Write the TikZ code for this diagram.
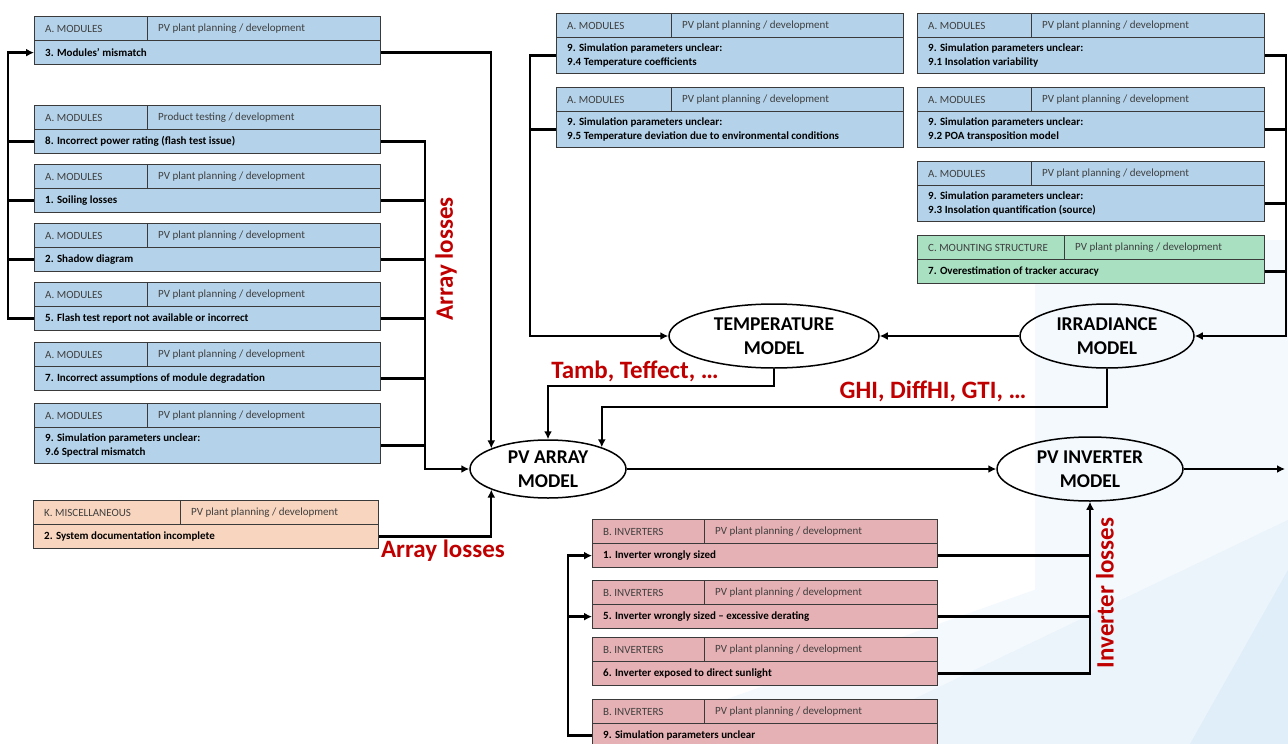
\documentclass[tikz,border=0pt]{standalone}
\usepackage{fontspec}
\setmainfont{Carlito}
\usetikzlibrary{arrows.meta,shapes.geometric,calc}
\definecolor{cblue}{HTML}{B4D3EA}
\definecolor{cgreen}{HTML}{A9E0C2}
\definecolor{cpink}{HTML}{E6B1B4}
\definecolor{cpeach}{HTML}{F8D5BE}
\definecolor{lred}{HTML}{C00000}
\definecolor{hgray}{HTML}{3F3F3F}
\definecolor{bd}{HTML}{3A3A3A}
\definecolor{bgA}{HTML}{F4F9FD}
\definecolor{bgB}{HTML}{EBF4FB}
\definecolor{bgC}{HTML}{DFEEF9}
\newcommand\bh{24pt}
\newcommand\rbox[9]{% name, fill, x, y, div x, right x, h1, h2, body
 \pgfmathsetmacro\wA{#5-#3}\pgfmathsetmacro\wB{#6-#5}\pgfmathsetmacro\wC{#6-#3}%
 \node[cell, fill=#2, minimum width=\wA pt, anchor=north west] (#1h1) at (#3,#4) {};
 \node[cell, fill=#2, minimum width=\wB pt, anchor=north west] (#1h2) at (#5,#4) {};
 \node[cell, fill=#2, minimum width=\wC pt, minimum height=\bh, anchor=north west] (#1) at (#3,#4+24) {};
 \node[htext] (#1t1) at ($(#1h1.west)+(11,0)$) {#7};
 \node[htext] (#1t2) at ($(#1h2.west)+(11,0)$) {#8};
 \node[btext] (#1tb) at ($(#1.west)+(11,0)$) {#9};
}
\tikzset{
 cell/.style={rectangle, draw=bd, line width=1.3pt, minimum height=24pt, inner sep=0pt},
 htext/.style={anchor=west, inner sep=0pt, text=hgray, font=\fontsize{11}{13}\selectfont},
 btext/.style={anchor=west, inner sep=0pt, align=left, font=\bfseries\fontsize{11}{13.5}\selectfont},
 ell/.style={ellipse, draw=black, line width=1.5pt, inner sep=0pt, align=center, font=\bfseries\fontsize{19.5}{24}\selectfont},
 lbl/.style={text=lred, inner sep=0pt, font=\bfseries\fontsize{25}{27}\selectfont},
 conn/.style={line width=2.4pt, draw=black},
 arr/.style={-{Latex[length=8pt,width=8pt]}}
}
\begin{document}
\begin{tikzpicture}[x=1pt,y=-1pt]
\useasboundingbox (0,0) rectangle (1288,744);
\clip (0,0) rectangle (1288,744);
\fill[white] (0,0) rectangle (1288,744);
% background decoration
\fill[bgA] (1035,240) -- (1288,240) -- (1288,744) -- (1035,744) -- cycle;
\fill[bgA] (600,744) -- (1288,500) -- (1288,744) -- cycle;
\fill[bgB] (820,744) -- (1288,520) -- (1288,744) -- cycle;
\fill[bgC] (1190,744) -- (1288,570) -- (1288,744) -- cycle;

% left column
\rbox{L1}{cblue}{34}{16}{147}{380}{A. MODULES}{PV plant planning / development}{3. Modules’ mismatch}
\rbox{L2}{cblue}{34}{105}{147}{380}{A. MODULES}{Product testing / development}{8. Incorrect power rating (flash test issue)}
\rbox{L3}{cblue}{34}{164}{147}{380}{A. MODULES}{PV plant planning / development}{1. Soiling losses}
\rbox{L4}{cblue}{34}{223}{147}{380}{A. MODULES}{PV plant planning / development}{2. Shadow diagram}
\rbox{L5}{cblue}{34}{282}{147}{380}{A. MODULES}{PV plant planning / development}{5. Flash test report not available or incorrect}
\rbox{L6}{cblue}{34}{342}{147}{380}{A. MODULES}{PV plant planning / development}{7. Incorrect assumptions of module degradation}
\renewcommand\bh{36pt}
\rbox{L7}{cblue}{34}{403}{147}{380}{A. MODULES}{PV plant planning / development}{9. Simulation parameters unclear:\\9.6 Spectral mismatch}
\rbox{T1}{cblue}{556}{13}{671}{903}{A. MODULES}{PV plant planning / development}{9. Simulation parameters unclear:\\9.4 Temperature coefficients}
\rbox{T2}{cblue}{556}{87}{671}{903}{A. MODULES}{PV plant planning / development}{9. Simulation parameters unclear:\\9.5 Temperature deviation due to environmental conditions}
\rbox{R1}{cblue}{917}{13}{1031}{1264}{A. MODULES}{PV plant planning / development}{9. Simulation parameters unclear:\\9.1 Insolation variability}
\rbox{R2}{cblue}{917}{87}{1031}{1264}{A. MODULES}{PV plant planning / development}{9. Simulation parameters unclear:\\9.2 POA transposition model}
\rbox{R3}{cblue}{917}{161}{1031}{1264}{A. MODULES}{PV plant planning / development}{9. Simulation parameters unclear:\\9.3 Insolation quantification (source)}
\renewcommand\bh{24pt}
\rbox{R4}{cgreen}{917}{235}{1064}{1264}{C. MOUNTING STRUCTURE}{PV plant planning / development}{7. Overestimation of tracker accuracy}
\rbox{K}{cpeach}{33}{500}{180}{378}{K. MISCELLANEOUS}{PV plant planning / development}{2. System documentation incomplete}
\rbox{B1}{cpink}{592}{519}{704}{937}{B. INVERTERS}{PV plant planning / development}{1. Inverter wrongly sized}
\rbox{B2}{cpink}{592}{580}{704}{937}{B. INVERTERS}{PV plant planning / development}{5. Inverter wrongly sized – excessive derating}
\rbox{B3}{cpink}{592}{637}{704}{937}{B. INVERTERS}{PV plant planning / development}{6. Inverter exposed to direct sunlight}
\rbox{B4}{cpink}{592}{699}{704}{937}{B. INVERTERS}{PV plant planning / development}{9. Simulation parameters unclear}

% models
\node[ell, minimum width=156pt, minimum height=58pt] (PVA) at (548,469) {PV ARRAY\\MODEL};
\node[ell, minimum width=210pt, minimum height=64pt] (TM) at (774,336) {TEMPERATURE\\MODEL};
\node[ell, minimum width=174pt, minimum height=64pt] (IM) at (1107,336) {IRRADIANCE\\MODEL};
\node[ell, minimum width=186pt, minimum height=64pt] (INV) at (1090,469) {PV INVERTER\\MODEL};

% collector coordinates
\coordinate (fb) at (8,0);
\coordinate (ac) at (425,0);
\coordinate (tc) at (530,0);
\coordinate (rc) at (1286,0);
\coordinate (ic) at (568,0);
\coordinate (out) at (1285,469);

% left feedback into L1
\draw[conn,arr] (L5.west) -| (fb |- L1.west) -- (L1.west);
\draw[conn] (L2.west) -- (fb |- L2.west);
\draw[conn] (L3.west) -- (fb |- L3.west);
\draw[conn] (L4.west) -- (fb |- L4.west);

% array losses collector
\draw[conn,arr] (L1.east) -| (PVA.160);
\draw[conn,arr] (L2.east) -| (ac |- PVA.west) -- (PVA.west);
\draw[conn] (L3.east) -- (ac |- L3.east);
\draw[conn] (L4.east) -- (ac |- L4.east);
\draw[conn] (L5.east) -- (ac |- L5.east);
\draw[conn] (L6.east) -- (ac |- L6.east);
\draw[conn] (L7.east) -- (ac |- L7.east);
\draw[conn,arr] (K.east) -| (PVA.200);

% temperature inputs
\draw[conn,arr] (T1.west) -| (tc |- TM.west) -- (TM.west);
\draw[conn] (T2.west) -- (tc |- T2.west);

% irradiance inputs
\draw[conn,arr] (R1.east) -| (rc |- IM.east) -- (IM.east);
\draw[conn] (R2.east) -- (rc |- R2.east);
\draw[conn] (R3.east) -- (rc |- R3.east);
\draw[conn] (R4.east) -- (rc |- R4.east);

\draw[conn,arr] (IM.west) -- (TM.east);
\draw[conn,arr] (TM.south) -- ++(0,17) -| (PVA.north);
\draw[conn,arr] (IM.south) -- ++(0,38) -| (PVA.22);
\draw[conn,arr] (PVA.east) -- (INV.west);
\draw[conn,arr] (INV.east) -- (out);

% inverter losses
\draw[conn,arr] (B3.east) -| (INV.south);
\draw[conn] (B1.east) -- (B1.east -| INV.south);
\draw[conn] (B2.east) -- (B2.east -| INV.south);
\draw[conn,arr] (B4.west) -| (ic |- B1.west) -- (B1.west);
\draw[conn,arr] (ic |- B2.west) -- (B2.west);

% labels
\node[lbl, rotate=90] (al1) at (446,259) {Array losses};
\node[lbl] (al2) at (443,551) {Array losses};
\node[lbl] (tl) at (635,371) {Tamb, Teffect, …};
\node[lbl] (gl) at (933,391) {GHI, DiffHI, GTI, …};
\node[lbl, rotate=90] (il) at (1105,593) {Inverter losses};
\end{tikzpicture}
\end{document}
